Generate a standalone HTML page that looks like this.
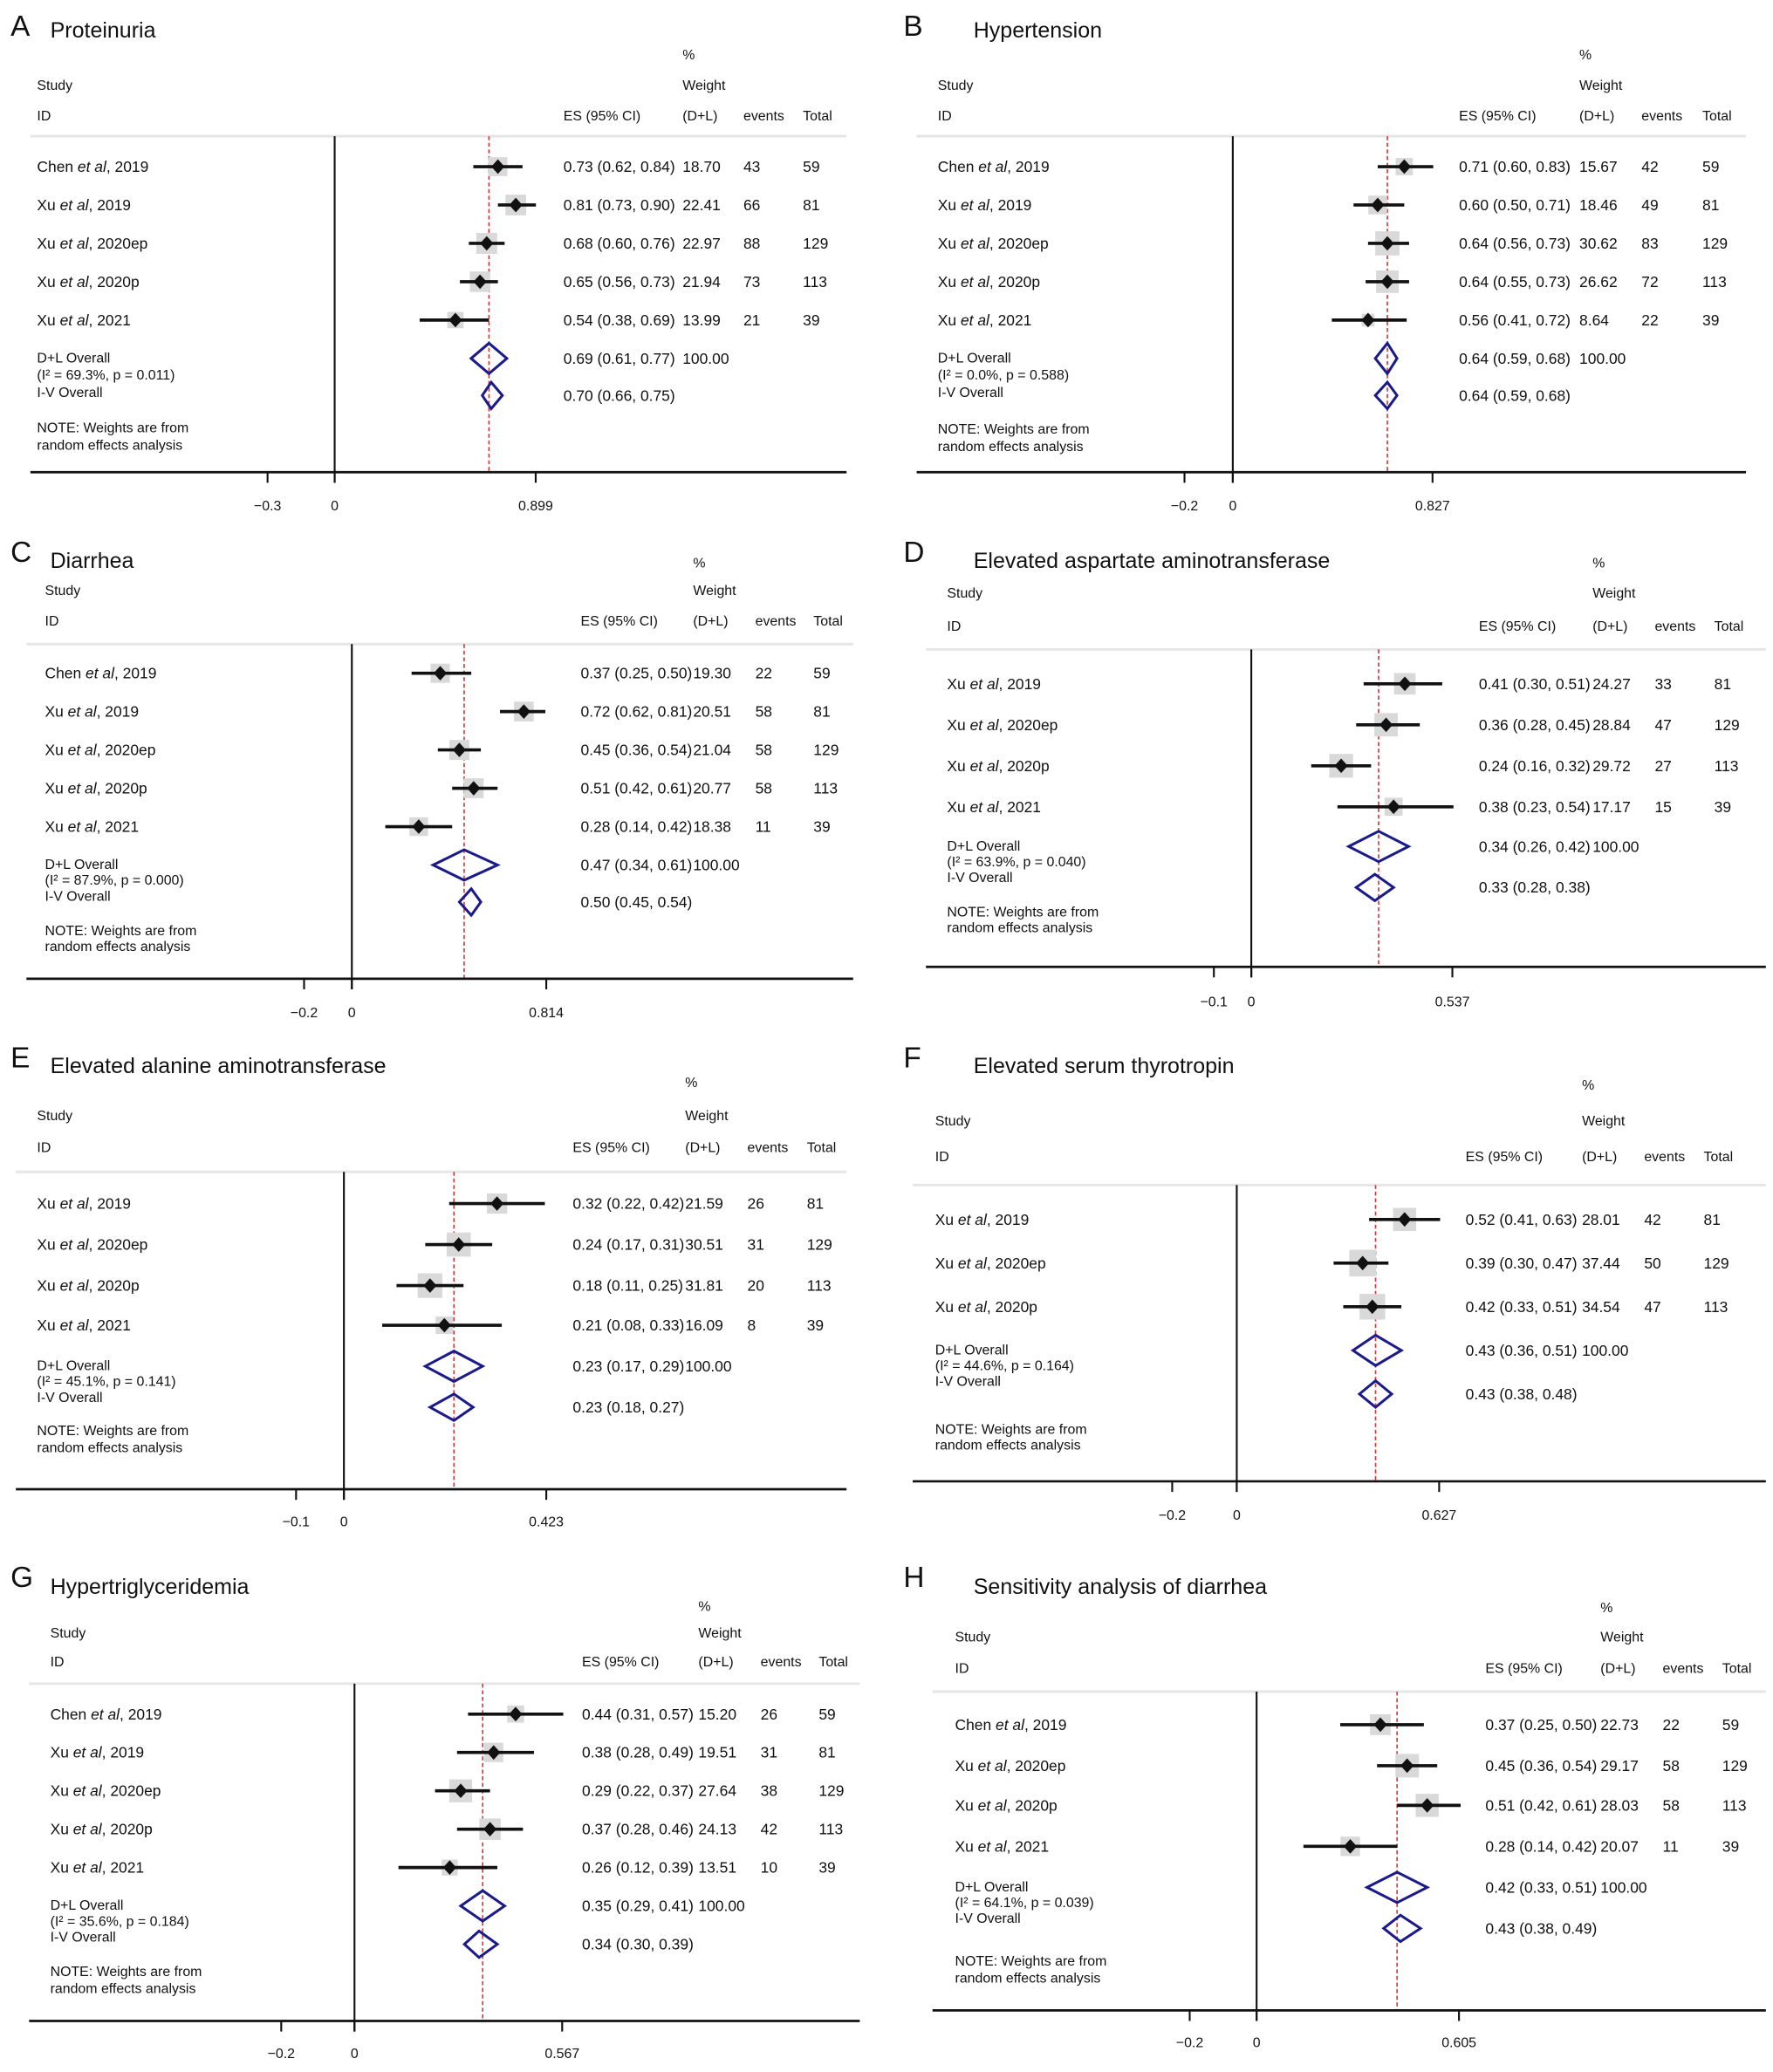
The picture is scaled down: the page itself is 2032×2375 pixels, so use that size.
<!DOCTYPE html>
<html><head><meta charset="utf-8">
<style>
html,body{margin:0;padding:0;background:#fff}
svg{display:block}
text{font-family:"Liberation Sans",Arial,sans-serif;fill:#111}
</style></head>
<body>
<svg id="fig" width="2032" height="2375" viewBox="0 0 1340.4 1566.6" preserveAspectRatio="none" xmlns="http://www.w3.org/2000/svg"></svg>
<script>
// ---- data arrays ----
const panelLetters = ["A","B","C","D","E","F","G","H"];
const panelTitles = ["Proteinuria","Hypertension","Diarrhea","Elevated aspartate aminotransferase","Elevated alanine aminotransferase","Elevated serum thyrotropin","Hypertriglyceridemia","Sensitivity analysis of diarrhea"];
const studyNames = [
 [["Chen","2019"],["Xu","2019"],["Xu","2020ep"],["Xu","2020p"],["Xu","2021"]],
 [["Chen","2019"],["Xu","2019"],["Xu","2020ep"],["Xu","2020p"],["Xu","2021"]],
 [["Chen","2019"],["Xu","2019"],["Xu","2020ep"],["Xu","2020p"],["Xu","2021"]],
 [["Xu","2019"],["Xu","2020ep"],["Xu","2020p"],["Xu","2021"]],
 [["Xu","2019"],["Xu","2020ep"],["Xu","2020p"],["Xu","2021"]],
 [["Xu","2019"],["Xu","2020ep"],["Xu","2020p"]],
 [["Chen","2019"],["Xu","2019"],["Xu","2020ep"],["Xu","2020p"],["Xu","2021"]],
 [["Chen","2019"],["Xu","2020ep"],["Xu","2020p"],["Xu","2021"]]
];
const esValues = [[0.73,0.81,0.68,0.65,0.54],[0.71,0.60,0.64,0.64,0.56],[0.37,0.72,0.45,0.51,0.28],[0.41,0.36,0.24,0.38],[0.32,0.24,0.18,0.21],[0.52,0.39,0.42],[0.44,0.38,0.29,0.37,0.26],[0.37,0.45,0.51,0.28]];
const ciLow = [[0.62,0.73,0.60,0.56,0.38],[0.60,0.50,0.56,0.55,0.41],[0.25,0.62,0.36,0.42,0.14],[0.30,0.28,0.16,0.23],[0.22,0.17,0.11,0.08],[0.41,0.30,0.33],[0.31,0.28,0.22,0.28,0.12],[0.25,0.36,0.42,0.14]];
const ciHigh = [[0.84,0.90,0.76,0.73,0.69],[0.83,0.71,0.73,0.73,0.72],[0.50,0.81,0.54,0.61,0.42],[0.51,0.45,0.32,0.54],[0.42,0.31,0.25,0.33],[0.63,0.47,0.51],[0.57,0.49,0.37,0.46,0.39],[0.50,0.54,0.61,0.42]];
const weights = [[18.70,22.41,22.97,21.94,13.99],[15.67,18.46,30.62,26.62,8.64],[19.30,20.51,21.04,20.77,18.38],[24.27,28.84,29.72,17.17],[21.59,30.51,31.81,16.09],[28.01,37.44,34.54],[15.20,19.51,27.64,24.13,13.51],[22.73,29.17,28.03,20.07]];
const events = [[43,66,88,73,21],[42,49,83,72,22],[22,58,58,58,11],[33,47,27,15],[26,31,20,8],[42,50,47],[26,31,38,42,10],[22,58,58,11]];
const totals = [[59,81,129,113,39],[59,81,129,113,39],[59,81,129,113,39],[81,129,113,39],[81,129,113,39],[81,129,113],[59,81,129,113,39],[59,129,113,39]];
const dlOverall = [[0.69,0.61,0.77],[0.64,0.59,0.68],[0.47,0.34,0.61],[0.34,0.26,0.42],[0.23,0.17,0.29],[0.43,0.36,0.51],[0.35,0.29,0.41],[0.42,0.33,0.51]];
const ivOverall = [[0.70,0.66,0.75],[0.64,0.59,0.68],[0.50,0.45,0.54],[0.33,0.28,0.38],[0.23,0.18,0.27],[0.43,0.38,0.48],[0.34,0.30,0.39],[0.43,0.38,0.49]];
const i2Labels = ["69.3%","0.0%","87.9%","63.9%","45.1%","44.6%","35.6%","64.1%"];
const pLabels = ["0.011","0.588","0.000","0.040","0.141","0.164","0.184","0.039"];
const tickNeg = ["-0.3","-0.2","-0.2","-0.1","-0.1","-0.2","-0.2","-0.2"];
const tickMax = ["0.899","0.827","0.814","0.537","0.423","0.627","0.567","0.605"];

// ---- layout (display units) ----
const L = [
 {lx:8,ly:20,tx:38,ty:23,pct:42,study:65,id:88,sep:103,x0:23,x1:640,zero:253,rows:[126,155,184,213,242],dl:271,i2:284,iv:297,ivd:299,n1:324,n2:337,axis:357,lab:383,sx:28,es:426,wt:516,ev:562,tot:607},
 {lx:683,ly:20,tx:736,ty:23,pct:42,study:65,id:88,sep:103,x0:693,x1:1320,zero:932,rows:[126,155,184,213,242],dl:271,i2:284,iv:297,ivd:299,n1:325,n2:338,axis:357,lab:383,sx:709,es:1103,wt:1194,ev:1241,tot:1287},
 {lx:8,ly:418,tx:38,ty:424,pct:426,study:447,id:470,sep:487,x0:20,x1:645,zero:266,rows:[509,538,567,596,625],dl:654,i2:666,iv:678,ivd:682,n1:704,n2:716,axis:740,lab:766,sx:34,es:439,wt:524,ev:571,tot:615},
 {lx:683,ly:418,tx:736,ty:424,pct:426,study:449,id:474,sep:491,x0:700,x1:1335,zero:946,rows:[517,548,579,610],dl:640,i2:652,iv:664,ivd:671,n1:690,n2:702,axis:731,lab:758,sx:716,es:1118,wt:1204,ev:1251,tot:1296},
 {lx:8,ly:800,tx:38,ty:806,pct:819,study:844,id:868,sep:886,x0:12,x1:640,zero:260,rows:[910,941,972,1002],dl:1033,i2:1045,iv:1057,ivd:1064,n1:1082,n2:1095,axis:1126,lab:1151,sx:28,es:433,wt:518,ev:565,tot:610},
 {lx:683,ly:800,tx:736,ty:806,pct:821,study:848,id:875,sep:896,x0:690,x1:1335,zero:935,rows:[922,955,988],dl:1021,i2:1033,iv:1045,ivd:1054,n1:1081,n2:1093,axis:1120,lab:1146,sx:707,es:1108,wt:1196,ev:1243,tot:1288},
 {lx:8,ly:1193,tx:38,ty:1200,pct:1215,study:1235,id:1257,sep:1273,x0:22,x1:650,zero:268,rows:[1296,1325,1354,1383,1412],dl:1441,i2:1453,iv:1465,ivd:1470,n1:1491,n2:1504,axis:1528,lab:1553,sx:38,es:440,wt:528,ev:575,tot:619},
 {lx:683,ly:1193,tx:736,ty:1200,pct:1216,study:1238,id:1262,sep:1279,x0:705,x1:1335,zero:950,rows:[1304,1335,1365,1396],dl:1427,i2:1439,iv:1451,ivd:1458,n1:1483,n2:1496,axis:1520,lab:1545,sx:722,es:1123,wt:1210,ev:1257,tot:1302}
];
const tickPxMax = [405,1083,413,1098,413,1088,425,1103];

const NS="http://www.w3.org/2000/svg";
const svg=document.getElementById('fig');
function mk(tag,attrs,parent){const e=document.createElementNS(NS,tag);for(const k in attrs)e.setAttribute(k,attrs[k]);(parent||svg).appendChild(e);return e;}
function txt(x,y,s,size,parent,anchor){const t=mk('text',{x:x,y:y,'font-size':size||11.5,'dominant-baseline':'central','text-anchor':anchor||'start'},parent);t.textContent=s;return t;}
const f2=v=>v.toFixed(2);
const ciStr=(e,l,h)=>f2(e)+" ("+f2(l)+", "+f2(h)+")";

panelLetters.forEach((letter,p)=>{
  const c=L[p];
  const g=mk('g',{});
  
  
  const scale=(tickPxMax[p]-c.zero)/parseFloat(tickMax[p]);
  const X=v=>c.zero+v*scale;
  let t=mk('text',{x:c.lx,y:c.ly,'font-size':22,'dominant-baseline':'central'},g);t.textContent=letter;
  
  t=txt(c.tx,c.ty,panelTitles[p],16.5,g);
  
  const hg=mk('g',{},g);
  txt(c.wt,c.pct,"%",10.5,hg);
  txt(c.sx,c.study,"Study",10.5,hg);
  txt(c.wt,c.study,"Weight",10.5,hg);
  txt(c.sx,c.id,"ID",10.5,hg);
  txt(c.es,c.id,"ES (95% CI)",10.5,hg);
  txt(c.wt,c.id,"(D+L)",10.5,hg);
  txt(c.ev,c.id,"events",10.5,hg);
  txt(c.tot,c.id,"Total",10.5,hg);
  let ln=mk('line',{x1:c.x0,x2:c.x1,y1:c.sep,y2:c.sep,stroke:'#e6e6e6','stroke-width':2},g);
  
  ln=mk('line',{x1:X(0),x2:X(0),y1:c.sep,y2:c.axis+8,stroke:'#111','stroke-width':1.4},g);
  
  ln=mk('line',{x1:X(dlOverall[p][0]),x2:X(dlOverall[p][0]),y1:c.sep,y2:c.axis,stroke:'#d23c3c','stroke-width':1.1,'stroke-dasharray':'3 2'},g);
  
  esValues[p].forEach((es,i)=>{
    const y=c.rows[i];
    const rg=mk('g',{},g);
    
    const st=mk('text',{x:c.sx,y:y,'font-size':11.5,'dominant-baseline':'central'},rg);
    st.appendChild(document.createTextNode(studyNames[p][i][0]+" "));
    const it=mk('tspan',{'font-style':'italic'},st);it.textContent="et al";
    st.appendChild(document.createTextNode(", "+studyNames[p][i][1]));
    const s=3.3*Math.sqrt(weights[p][i]);
    const sq=mk('rect',{x:X(es)-s/2,y:y-s/2,width:s,height:s,fill:'#d9d9d9'},rg);
    
    const ci=mk('line',{x1:X(ciLow[p][i]),x2:X(ciHigh[p][i]),y1:y,y2:y,stroke:'#111','stroke-width':2.4},rg);
    
    const ex=X(es);
    const pt=mk('polygon',{points:`${ex-5},${y} ${ex},${y-5.5} ${ex+5},${y} ${ex},${y+5.5}`,fill:'#111'},rg);
    
    txt(c.es,y,ciStr(es,ciLow[p][i],ciHigh[p][i]),11.5,rg);
    txt(c.wt,y,f2(weights[p][i]),11.5,rg);
    txt(c.ev,y,String(events[p][i]),11.5,rg);
    txt(c.tot,y,String(totals[p][i]),11.5,rg);
  });
  const og=mk('g',{},g);
  txt(c.sx,c.dl,"D+L Overall",10.5,og);
  txt(c.sx,c.i2,"(I\u00b2 = "+i2Labels[p]+", p = "+pLabels[p]+")",10.5,og);
  txt(c.sx,c.iv,"I-V Overall",10.5,og);
  [[dlOverall[p],c.dl,11.5],[ivOverall[p],c.ivd,10]].forEach(([o,y,h],k)=>{
    const d=mk('polygon',{points:`${X(o[1])},${y} ${X(o[0])},${y-h} ${X(o[2])},${y} ${X(o[0])},${y+h}`,fill:'none',stroke:'#1a1a8c','stroke-width':2},og);
    
    txt(c.es,y,ciStr(o[0],o[1],o[2]),11.5,og);
    if(!k) txt(c.wt,y,"100.00",11.5,og);
  });
  txt(c.sx,c.n1,"NOTE: Weights are from",10.5,og);
  txt(c.sx,c.n2,"random effects analysis",10.5,og);
  const ag=mk('g',{},g);
  mk('line',{x1:c.x0,x2:c.x1,y1:c.axis,y2:c.axis,stroke:'#111','stroke-width':1.8},ag);
  [parseFloat(tickNeg[p]),0,parseFloat(tickMax[p])].forEach((v,k)=>{
    mk('line',{x1:X(v),x2:X(v),y1:c.axis,y2:c.axis+8,stroke:'#111','stroke-width':1.4},ag);
    txt(X(v),c.lab,[tickNeg[p].replace('-','\u2212'),"0",tickMax[p]][k],10.5,ag,'middle');
  });
});
</script>
</body></html>
